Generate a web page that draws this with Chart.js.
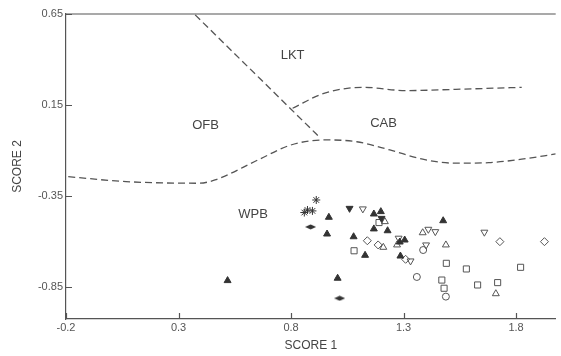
<!DOCTYPE html>
<html>
<head>
<meta charset="utf-8">
<script src="https://cdn.jsdelivr.net/npm/chart.js@4.4.1/dist/chart.umd.min.js"></script>
<style>
  body { margin: 0; background: #fff; }
  canvas { display: block; }
</style>
</head>
<body>
<canvas id="scoreChart" width="561" height="356"></canvas>
<script>
// axis ticks
const xTicks = [-0.2, 0.3, 0.8, 1.3, 1.8];
const yTicks = [0.65, 0.15, -0.35, -0.85];

// field boundaries (dashed)
const lktOfbX = [0.374, 0.924];
const lktOfbY = [0.645, -0.024];
const lktCabX = [0.807, 0.946, 1.122, 1.312, 1.532, 1.825];
const lktCabY = [0.132, 0.214, 0.247, 0.229, 0.236, 0.247];
const lowerX = [-0.19, 0.067, 0.389, 0.462, 0.653, 0.799, 0.946, 1.092, 1.239, 1.385, 1.532, 1.678, 1.825, 1.976];
const lowerY = [-0.244, -0.271, -0.280, -0.262, -0.152, -0.070, -0.042, -0.052, -0.097, -0.148, -0.170, -0.167, -0.148, -0.119];

// field names
const fieldNames = ['LKT', 'OFB', 'CAB', 'WPB'];
const fieldX = [0.807, 0.420, 1.211, 0.631];
const fieldY = [0.425, 0.040, 0.051, -0.449];

// samples, one pair of arrays per symbol
const triFillX = [0.518, 0.968, 0.960, 1.078, 1.129, 1.007, 1.168, 1.199, 1.168, 1.229, 1.283, 1.305, 1.286, 1.476];
const triFillY = [-0.815, -0.467, -0.559, -0.574, -0.676, -0.802, -0.449, -0.436, -0.531, -0.541, -0.603, -0.592, -0.680, -0.486];
const invFillX = [1.060, 1.202];
const invFillY = [-0.418, -0.473];
const invOpenX = [1.119, 1.278, 1.331, 1.410, 1.441, 1.400, 1.659];
const invOpenY = [-0.421, -0.582, -0.707, -0.533, -0.546, -0.619, -0.549];
const triOpenX = [1.217, 1.210, 1.271, 1.385, 1.488, 1.710];
const triOpenY = [-0.491, -0.632, -0.619, -0.552, -0.619, -0.887];
const diaOpenX = [1.139, 1.187, 1.309, 1.728, 1.926];
const diaOpenY = [-0.596, -0.619, -0.698, -0.601, -0.601];
const sqOpenX = [1.080, 1.191, 1.490, 1.470, 1.480, 1.579, 1.629, 1.718, 1.820];
const sqOpenY = [-0.651, -0.496, -0.720, -0.812, -0.857, -0.751, -0.839, -0.826, -0.742];
const circOpenX = [1.359, 1.488, 1.387];
const circOpenY = [-0.795, -0.903, -0.647];
const starX = [0.912, 0.859, 0.873, 0.895];
const starY = [-0.372, -0.441, -0.427, -0.432];
const lensX = [0.887, 1.016];
const lensY = [-0.520, -0.912];

const ink = '#333';
const grey = '#555';

function zip(xs, ys){
    return xs.map((x, i) => ({x: x, y: ys[i]}));
}

// flat filled diamond for the lens symbol
const lens = document.createElement('canvas');
lens.width = 11; lens.height = 6;
(function(){
    const c = lens.getContext('2d');
    c.fillStyle = ink;
    c.beginPath();
    c.moveTo(0, 3); c.lineTo(5.5, 0.5); c.lineTo(11, 3); c.lineTo(5.5, 5.5);
    c.closePath();
    c.fill();
})();

function boundary(xs, ys){
    return {
        data: zip(xs, ys), showLine: true, pointRadius: 0,
        borderColor: grey, borderWidth: 1.3, borderDash: [7, 4],
        cubicInterpolationMode: 'monotone', fill: false
    };
}

function symbols(xs, ys, style, filled, radius, rotation){
    return {
        data: zip(xs, ys), showLine: false,
        pointStyle: style, pointRadius: radius, pointRotation: rotation || 0,
        backgroundColor: filled ? ink : 'rgba(255,255,255,0)',
        borderColor: filled ? ink : grey, borderWidth: filled ? 1 : 1
    };
}

// inward tick marks, top frame line and field names
const decor = {
    id: 'decor',
    afterDraw(chart){
        const ctx = chart.ctx;
        const xs = chart.scales.x, ys = chart.scales.y;
        const area = chart.chartArea;
        ctx.save();
        ctx.strokeStyle = grey;
        ctx.lineWidth = 1.2;
        ctx.beginPath();
        ctx.moveTo(area.left, area.top);
        ctx.lineTo(area.right, area.top);
        xTicks.forEach(v => {
            const px = Math.round(xs.getPixelForValue(v)) + 0.5;
            ctx.moveTo(px, area.bottom);
            ctx.lineTo(px, area.bottom - 6);
        });
        yTicks.forEach(v => {
            const py = Math.round(ys.getPixelForValue(v)) + 0.5;
            ctx.moveTo(area.left, py);
            ctx.lineTo(area.left + 6, py);
        });
        ctx.stroke();
        ctx.fillStyle = '#444';
        ctx.font = '13px "Liberation Sans", Arial, sans-serif';
        ctx.textAlign = 'center';
        ctx.textBaseline = 'middle';
        fieldNames.forEach((name, i) => {
            ctx.fillText(name, xs.getPixelForValue(fieldX[i]), ys.getPixelForValue(fieldY[i]));
        });
        ctx.restore();
    }
};

const tickFont = {family: '"Liberation Sans", Arial, sans-serif', size: 11};
const titleFont = {family: '"Liberation Sans", Arial, sans-serif', size: 12};

new Chart(document.getElementById('scoreChart').getContext('2d'), {
    type: 'scatter',
    data: {
        datasets: [
            boundary(lktOfbX, lktOfbY),
            boundary(lktCabX, lktCabY),
            boundary(lowerX, lowerY),
            symbols(triFillX, triFillY, 'triangle', true, 4),
            symbols(invFillX, invFillY, 'triangle', true, 4, 180),
            symbols(invOpenX, invOpenY, 'triangle', false, 4, 180),
            symbols(triOpenX, triOpenY, 'triangle', false, 4),
            symbols(diaOpenX, diaOpenY, 'rectRot', false, 4),
            symbols(sqOpenX, sqOpenY, 'rect', false, 4.3),
            symbols(circOpenX, circOpenY, 'circle', false, 3.5),
            symbols(starX, starY, 'star', true, 4),
            symbols(lensX, lensY, lens, true, 4)
        ]
    },
    options: {
        responsive: false,
        animation: false,
        devicePixelRatio: 1,
        layout: {padding: {top: 14, right: 0, left: 0, bottom: 0}},
        plugins: {legend: {display: false}, tooltip: {enabled: false}},
        scales: {
            x: {
                type: 'linear', min: -0.2, max: 1.976,
                afterBuildTicks: s => { s.ticks = xTicks.map(v => ({value: v})); },
                afterFit: s => { s.height = 37; },
                ticks: {color: grey, font: tickFont, padding: 2, maxRotation: 0, callback: v => String(v)},
                grid: {display: false, drawTicks: false},
                border: {color: grey, width: 1.2},
                title: {display: true, text: 'SCORE 1', color: '#444', font: titleFont, padding: {top: 0, bottom: 3}}
            },
            y: {
                type: 'linear', min: -1.026, max: 0.65,
                afterBuildTicks: s => { s.ticks = yTicks.map(v => ({value: v})); },
                afterFit: s => { s.width = 66; },
                ticks: {color: grey, font: tickFont, padding: 3, callback: v => String(v)},
                grid: {display: false, drawTicks: false},
                border: {color: grey, width: 1.2},
                title: {display: true, text: 'SCORE 2', color: '#444', font: titleFont, padding: {top: 10, bottom: 0}}
            }
        }
    },
    plugins: [decor]
});
</script>
</body>
</html>
